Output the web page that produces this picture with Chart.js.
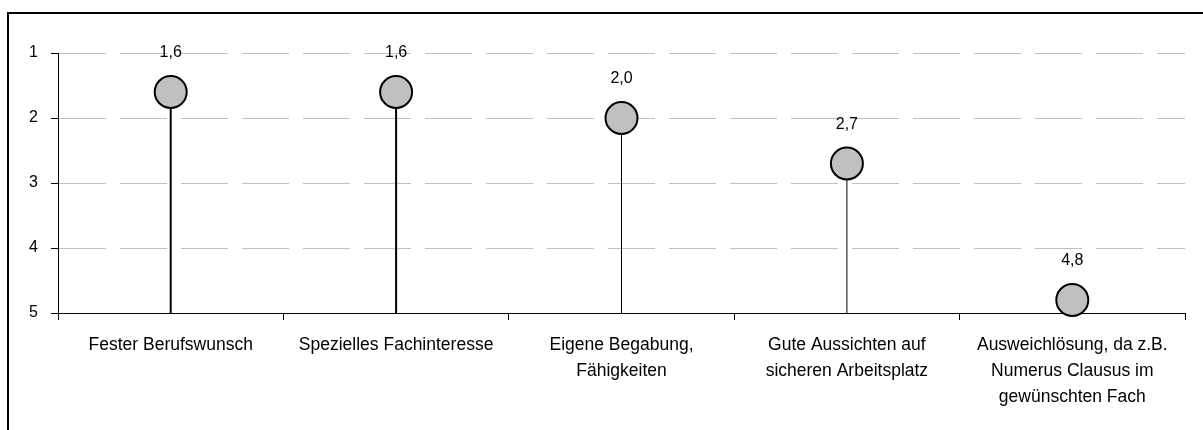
<!DOCTYPE html>
<html>
<head>
<meta charset="utf-8">
<script src="https://cdn.jsdelivr.net/npm/chart.js@4.4.3/dist/chart.umd.min.js"></script>
<style>
    html, body { margin: 0; padding: 0; background: #fff; }
    #wrap { position: relative; width: 1203px; height: 430px; overflow: hidden; }
    #frame {
        position: absolute; left: 7px; top: 12px;
        width: 1220px; height: 440px;
        border: 2px solid #000; box-sizing: border-box;
    }
    #chart { position: absolute; left: 0; top: 0; }
</style>
</head>
<body>
<div id="wrap">
    <div id="frame"></div>
    <canvas id="chart" width="1203" height="430"></canvas>
</div>
<script>
// -----------------------------
// Gründe für die Studienwahl (Mittelwerte, 1 = sehr wichtig)
// -----------------------------

const categories = [
    ["Fester Berufswunsch"],
    ["Spezielles Fachinteresse"],
    ["Eigene Begabung,", "Fähigkeiten"],
    ["Gute Aussichten auf", "sicheren Arbeitsplatz"],
    ["Ausweichlösung, da z.B.", "Numerus Clausus im", "gewünschten Fach"]
];
const meanValues = [1.6, 1.6, 2.0, 2.7, 4.8];
const yTicks = [1, 2, 3, 4, 5];

const FONT = "'Liberation Sans', Arial, sans-serif";

// Stems from each point down to the bottom of the scale
const stemPlugin = {
    id: "stems",
    beforeDatasetsDraw(chart, args, opts) {
        const ctx = chart.ctx;
        const yScale = chart.scales.y;
        const meta = chart.getDatasetMeta(0);
        const bottom = yScale.getPixelForValue(yScale.max);

        meta.data.forEach((pt, i) => {
            ctx.save();
            ctx.strokeStyle = "#000";
            ctx.lineWidth = (opts.widths && opts.widths[i]) || 1;
            ctx.beginPath();
            ctx.moveTo(pt.x, pt.y);
            ctx.lineTo(pt.x, bottom);
            ctx.stroke();
            ctx.restore();
        });
    }
};

// Value labels above the points, German decimal comma
const valueLabelPlugin = {
    id: "valueLabels",
    afterDatasetsDraw(chart, args, opts) {
        const ctx = chart.ctx;
        const meta = chart.getDatasetMeta(0);
        const data = chart.data.datasets[0].data;

        ctx.save();
        ctx.fillStyle = "#000";
        ctx.font = "16px " + FONT;
        ctx.textAlign = "center";
        ctx.textBaseline = "middle";
        meta.data.forEach((pt, i) => {
            const text = data[i].toFixed(1).replace(".", ",");
            ctx.fillText(text, pt.x, pt.y - opts.offset);
        });
        ctx.restore();
    }
};

new Chart(document.getElementById("chart"), {
    type: "line",
    data: {
        labels: categories,
        datasets: [{
            data: meanValues,
            showLine: false,
            pointRadius: 16,
            pointHoverRadius: 16,
            pointBackgroundColor: "#c0c0c0",
            pointBorderColor: "#000",
            pointBorderWidth: 2,
            pointHoverBorderWidth: 2,
            clip: false
        }]
    },
    options: {
        responsive: false,
        animation: false,
        events: [],
        layout: {
            padding: { left: 0, right: 17, top: 53, bottom: 0 }
        },
        plugins: {
            legend: { display: false },
            tooltip: { enabled: false },
            stems: { widths: [2, 2, 1, 1, 1] },
            valueLabels: { offset: 39 }
        },
        scales: {
            x: {
                type: "category",
                offset: true,
                grid: {
                    offset: true,
                    drawOnChartArea: false,
                    drawTicks: true,
                    tickLength: 7,
                    tickColor: "#000",
                    tickWidth: 1
                },
                border: { display: true, color: "#000", width: 1 },
                ticks: {
                    color: "#000",
                    autoSkip: false,
                    maxRotation: 0,
                    minRotation: 0,
                    padding: 12,
                    font: { family: FONT, size: 17.5, lineHeight: 1.49 }
                },
                afterFit(scale) { scale.height = 117; }
            },
            y: {
                reverse: true,
                min: 1,
                max: 5,
                afterBuildTicks(scale) {
                    scale.ticks = yTicks.map(v => ({ value: v }));
                },
                grid: {
                    color: "#c0c0c0",
                    lineWidth: 1,
                    drawTicks: true,
                    tickLength: 7,
                    tickColor: "#000",
                    tickWidth: 1,
                    tickBorderDash: []
                },
                border: { display: true, color: "#000", width: 1, dash: [47, 14] },
                ticks: {
                    color: "#000",
                    padding: 13,
                    font: { family: FONT, size: 16 }
                },
                afterFit(scale) { scale.width = 58; }
            }
        }
    },
    plugins: [stemPlugin, valueLabelPlugin]
});
</script>
</body>
</html>
